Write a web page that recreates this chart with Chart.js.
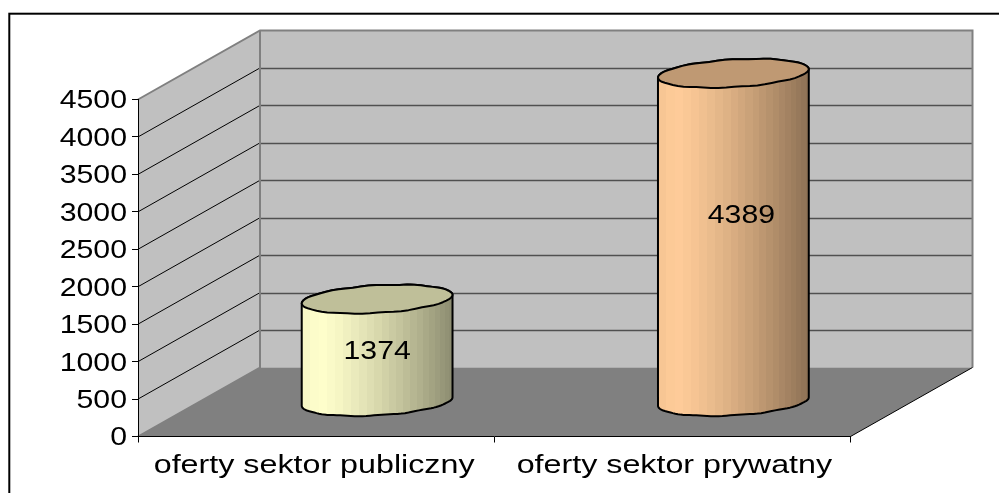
<!DOCTYPE html>
<html lang="pl">
<head>
  <meta charset="UTF-8" />
  <title>Oferty</title>
  <script src="https://cdn.jsdelivr.net/npm/chart.js"></script>
  <style>
    html, body { margin: 0; padding: 0; background: #fff; overflow: hidden; }
    canvas { display: block; }
  </style>
</head>
<body>
  <canvas id="chart" width="999" height="493"></canvas>

  <script>
    const categories = ["oferty sektor publiczny", "oferty sektor prywatny"];
    const offerValues = [1374, 4389];
    const yMax = 4500;
    const yStep = 500;

    const barColors = [[255, 255, 204], [255, 204, 153]];
    // excel puts the labels a bit off centre on the tall cylinder
    const labelShift = [[0, 2], [8, -21]];

    const depthX = 122;
    const depthY = 69;
    const textFont = '25px "Liberation Sans", Arial, sans-serif';

    function wideText(ctx, text, x, y, align, stretch) {
      ctx.save();
      ctx.font = textFont;
      ctx.fillStyle = "#000";
      ctx.textAlign = align;
      ctx.textBaseline = "middle";
      ctx.translate(x, y);
      ctx.scale(stretch, 1);
      ctx.fillText(text, 0, 0);
      ctx.restore();
    }

    function shade(rgb, f) {
      return `rgb(${rgb.map(c => Math.round(c * f)).join(",")})`;
    }

    function bodyFactor(t) {
      if (t < 0.12) return 0.96 + 0.04 * t / 0.12;
      return 1 - 0.45 * Math.pow((t - 0.12) / 0.88, 1.3);
    }

    // banded fill, the bands get narrower towards the right like the original
    function bandedGradient(ctx, left, right, rgb) {
      const grad = ctx.createLinearGradient(left, 0, right, 0);
      const bands = 22;
      for (let i = 0; i < bands; i++) {
        const a = 1 - Math.pow(1 - i / bands, 1.25);
        const b = 1 - Math.pow(1 - (i + 1) / bands, 1.25);
        const col = shade(rgb, bodyFactor((a + b) / 2));
        grad.addColorStop(a, col);
        grad.addColorStop(b, col);
      }
      return grad;
    }

    // slightly uneven tilted ellipse, the source outline is not a clean curve
    function rimPoint(cx, cy, a, b, tilt, th) {
      const wob = 0.4 * Math.sin(th * 11 + 0.6) * Math.sin(th);
      const ex = a * Math.cos(th);
      const ey = b * Math.sin(th) + wob;
      return [cx + ex * Math.cos(tilt) - ey * Math.sin(tilt), cy + ex * Math.sin(tilt) + ey * Math.cos(tilt)];
    }

    function traceRim(ctx, cx, cy, a, b, tilt, from, to) {
      const steps = 60;
      for (let i = 0; i <= steps; i++) {
        const p = rimPoint(cx, cy, a, b, tilt, from + (to - from) * i / steps);
        ctx.lineTo(p[0], p[1]);
      }
    }

    function drawCylinder(ctx, bar, rgb) {
      const a = bar.width / 2;
      const b = 13.8;
      const tilt = -0.058;
      const cx = bar.x + depthX / 2;
      const topY = bar.y - depthY / 2;
      const botY = bar.base - depthY / 2;

      ctx.save();
      ctx.lineWidth = 2;
      ctx.strokeStyle = "#000";
      ctx.lineJoin = "round";

      ctx.beginPath();
      traceRim(ctx, cx, botY, a, b, tilt, Math.PI, 0);
      traceRim(ctx, cx, topY, a, b, tilt, 0, -Math.PI);
      ctx.closePath();
      ctx.fillStyle = bandedGradient(ctx, cx - a, cx + a, rgb);
      ctx.fill();
      ctx.stroke();

      ctx.beginPath();
      traceRim(ctx, cx, topY, a, b, tilt, 0, Math.PI * 2);
      ctx.closePath();
      ctx.fillStyle = shade(rgb, 0.75);
      ctx.fill();
      ctx.stroke();
      ctx.restore();
    }

    const cylinderPlugin = {
      id: "cylinder3d",
      beforeDraw(chart) {
        const { ctx, scales } = chart;
        const x = scales.x;
        const y = scales.y;
        const left = x.left;
        const right = x.right;
        const top = y.getPixelForValue(yMax);
        const bottom = y.getPixelForValue(0);

        ctx.save();

        // frame round the whole picture, runs off the right and bottom
        ctx.strokeStyle = "#000";
        ctx.lineWidth = 2;
        ctx.strokeRect(9.3, 13.7, 1300, 800);

        // side wall
        ctx.fillStyle = "#c0c0c0";
        ctx.beginPath();
        ctx.moveTo(left, bottom);
        ctx.lineTo(left, top);
        ctx.lineTo(left + depthX, top - depthY);
        ctx.lineTo(left + depthX, bottom - depthY);
        ctx.closePath();
        ctx.fill();

        // back wall
        ctx.fillRect(left + depthX, top - depthY, right - left, bottom - top);

        // floor
        ctx.fillStyle = "#808080";
        ctx.beginPath();
        ctx.moveTo(left, bottom);
        ctx.lineTo(right, bottom);
        ctx.lineTo(right + depthX, bottom - depthY);
        ctx.lineTo(left + depthX, bottom - depthY);
        ctx.closePath();
        ctx.fill();

        // gridlines on both walls
        y.ticks.forEach(t => {
          if (t.value === 0 || t.value === yMax) return;
          const py = y.getPixelForValue(t.value);
          ctx.strokeStyle = "#000";
          ctx.lineWidth = 1;
          ctx.beginPath();
          ctx.moveTo(left, py);
          ctx.lineTo(left + depthX, py - depthY);
          ctx.stroke();
          ctx.strokeStyle = "#505050";
          ctx.lineWidth = 1.5;
          ctx.beginPath();
          ctx.moveTo(left + depthX, Math.round(py - depthY) + 0.5);
          ctx.lineTo(right + depthX, Math.round(py - depthY) + 0.5);
          ctx.stroke();
        });

        // wall edges
        ctx.strokeStyle = "#808080";
        ctx.lineWidth = 2;
        ctx.beginPath();
        ctx.moveTo(left, bottom);
        ctx.lineTo(left + depthX, bottom - depthY);
        ctx.lineTo(left + depthX, top - depthY);
        ctx.moveTo(left, top);
        ctx.lineTo(left + depthX, top - depthY);
        ctx.lineTo(right + depthX, top - depthY);
        ctx.lineTo(right + depthX, bottom - depthY);
        ctx.stroke();

        ctx.strokeStyle = "#000";
        ctx.lineWidth = 1;
        ctx.beginPath();
        ctx.moveTo(right, bottom);
        ctx.lineTo(right + depthX, bottom - depthY);
        ctx.stroke();

        ctx.restore();
      },
      afterDatasetsDraw(chart) {
        const { ctx, scales } = chart;
        const bars = chart.getDatasetMeta(0).data;

        bars.forEach((bar, i) => drawCylinder(ctx, bar, barColors[i]));

        bars.forEach((bar, i) => {
          const cx = bar.x + depthX / 2 + labelShift[i][0];
          const cy = (bar.y + bar.base) / 2 - depthY / 2 + labelShift[i][1];
          wideText(ctx, String(offerValues[i]), cx, cy, "center", 1.21);
        });

        // axis text, squeezed wide like the source image
        scales.y.ticks.forEach(t => {
          wideText(ctx, String(t.value), scales.y.right - 11, scales.y.getPixelForValue(t.value) + 2, "right", 1.21);
        });
        categories.forEach((label, i) => {
          wideText(ctx, label, scales.x.getPixelForValue(i) + (i ? 2 : -2), 466, "center", 1.29);
        });
      }
    };

    new Chart(document.getElementById("chart"), {
      type: "bar",
      data: {
        labels: categories,
        datasets: [{
          data: offerValues,
          backgroundColor: "transparent",
          categoryPercentage: 1,
          barPercentage: 0.424
        }]
      },
      options: {
        responsive: false,
        animation: false,
        events: [],
        layout: { padding: { top: 99.5, right: 148.5, bottom: 0, left: 0 } },
        plugins: { legend: { display: false }, tooltip: { enabled: false } },
        scales: {
          x: {
            afterFit(scale) { scale.height = 56.5; },
            grid: { offset: true, drawOnChartArea: false, tickLength: 6, color: "#000" },
            border: { color: "#000", width: 1 },
            ticks: { display: false }
          },
          y: {
            min: 0,
            max: yMax,
            afterFit(scale) { scale.width = 138; },
            grid: { drawOnChartArea: false, tickLength: 6, color: "#000" },
            border: { color: "#000", width: 1 },
            ticks: { display: false, stepSize: yStep, autoSkip: false }
          }
        }
      },
      plugins: [cylinderPlugin]
    });
  </script>
</body>
</html>
